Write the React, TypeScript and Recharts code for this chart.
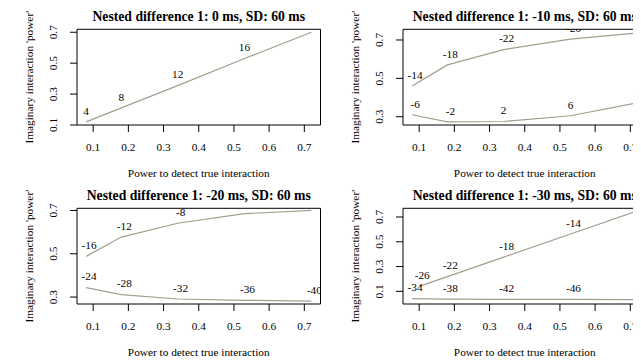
import React from "react";
import { LineChart, Line, XAxis, YAxis, ReferenceArea, LabelList } from "recharts";

// power to detect the true interaction (x) for each simulated effect size
const powerTrue = [0.08, 0.18, 0.34, 0.53, 0.72];
const powerTrueP4Upper = [0.1, 0.18, 0.34, 0.53, 0.72];

const xTicks = [0.1, 0.2, 0.3, 0.4, 0.5, 0.6, 0.7];

const titles = [
	"Nested difference 1: 0 ms, SD: 60 ms",
	"Nested difference 1: -10 ms, SD: 60 ms",
	"Nested difference 1: -20 ms, SD: 60 ms",
	"Nested difference 1: -30 ms, SD: 60 ms",
];
const xTitle = "Power to detect true interaction";
const yTitle = "Imaginary interaction 'power'";

// panel 1
const p1Labels = [4, 8, 12, 16, 20];
const p1Power = [0.12, 0.211, 0.355, 0.53, 0.7];

// panel 2
const p2UpperLabels = [-14, -18, -22, -26, -30];
const p2UpperPower = [0.46, 0.57, 0.65, 0.705, 0.737];
const p2LowerLabels = [-6, -2, 2, 6, 10];
const p2LowerPower = [0.31, 0.273, 0.275, 0.305, 0.373];

// panel 3
const p3UpperLabels = [-16, -12, -8, -4, 0];
const p3UpperPower = [0.488, 0.577, 0.641, 0.685, 0.7];
const p3LowerLabels = [-24, -28, -32, -36, -40];
const p3LowerPower = [0.344, 0.311, 0.291, 0.285, 0.281];

// panel 4
const p4UpperLabels = [-26, -22, -18, -14, -10];
const p4UpperPower = [0.14, 0.219, 0.376, 0.563, 0.75];
const p4LowerLabels = [-34, -38, -42, -46, -50];
const p4LowerPower = [0.042, 0.038, 0.036, 0.035, 0.034];

const yTicksWide = [0.1, 0.2, 0.3, 0.4, 0.5, 0.6, 0.7];
const yTicksNarrow = [0.3, 0.4, 0.5, 0.6, 0.7];
const yLabelled = [0.1, 0.3, 0.5, 0.7];

type Pt = { x: number; y: number; label: number };

const makeSeries = (xs: number[], ys: number[], labels: number[]): Pt[] =>
	xs.map((x, i) => ({ x, y: ys[i], label: labels[i] }));

const FONT = "'Liberation Serif', 'Times New Roman', serif";
const TXT = { fontFamily: FONT, fontSize: 11.3, fill: "#000" };
const LINE_COLOR = "#a19f8b";
const PANEL_W = 326;
const PANEL_H = 179;
const PLOT_LEFT = 77;
const PLOT_TOP = 29.3;
const PLOT_W = 243.5;
const PLOT_H = 95.7;
const Y_AXIS_W = 40;
const X_AXIS_H = 30;
const X_DOMAIN: [number, number] = [0.054, 0.746];

const panels = [
	{
		title: titles[0],
		yDomain: [0.1, 0.719] as [number, number],
		yTicks: yTicksWide,
		series: [makeSeries(powerTrue, p1Power, p1Labels)],
		left: 0,
		top: 0,
	},
	{
		title: titles[1],
		yDomain: [0.2567, 0.7558] as [number, number],
		yTicks: yTicksNarrow,
		series: [
			makeSeries(powerTrue, p2UpperPower, p2UpperLabels),
			makeSeries(powerTrue, p2LowerPower, p2LowerLabels),
		],
		left: 325.7,
		top: 0,
	},
	{
		title: titles[2],
		yDomain: [0.268, 0.71] as [number, number],
		yTicks: yTicksNarrow,
		series: [
			makeSeries(powerTrue, p3UpperPower, p3UpperLabels),
			makeSeries(powerTrue, p3LowerPower, p3LowerLabels),
		],
		left: 0,
		top: 179.3,
	},
	{
		title: titles[3],
		yDomain: [-0.002, 0.77] as [number, number],
		yTicks: yTicksWide,
		series: [
			makeSeries(powerTrueP4Upper, p4UpperPower, p4UpperLabels),
			makeSeries(powerTrue, p4LowerPower, p4LowerLabels),
		],
		left: 325.7,
		top: 179.3,
	},
];

const XTick = (props: any) => {
	const { x, y, payload } = props;
	return (
		<text x={x} y={y + 14.7} textAnchor="middle" dominantBaseline="central" style={TXT}>
			{payload.value.toFixed(1)}
		</text>
	);
};

const YTick = (props: any) => {
	const { x, y, payload } = props;
	if (!yLabelled.includes(payload.value)) return <g />;
	const cx = x - 16.7;
	return (
		<text
			x={cx}
			y={y}
			transform={`rotate(-90 ${cx} ${y})`}
			textAnchor="middle"
			dominantBaseline="central"
			style={TXT}
		>
			{payload.value.toFixed(1)}
		</text>
	);
};

// R's text() is clipped to the plot region, so labels above the box get cut
const pointLabel = (clipId: string) => (props: any) => {
	const { x, y, value, index } = props;
	const id = `${clipId}-${index}`;
	const dx = String(value).startsWith("-") ? 3 : 0;
	return (
		<g>
			<defs>
				<clipPath id={id}>
					<rect x={PLOT_LEFT} y={PLOT_TOP} width={PLOT_W} height={PLOT_H} />
				</clipPath>
			</defs>
			<text
				x={x + dx}
				y={y - 11.2}
				textAnchor="middle"
				dominantBaseline="central"
				style={TXT}
				clipPath={`url(#${id})`}
			>
				{value}
			</text>
		</g>
	);
};

const Panel = ({ p, idx }: { p: (typeof panels)[number]; idx: number }) => {
	const cx = PLOT_LEFT + PLOT_W / 2;
	const cy = PLOT_TOP + PLOT_H / 2;
	return (
		<div style={{ position: "absolute", left: p.left, top: p.top }}>
			<LineChart
				width={PANEL_W}
				height={PANEL_H}
				style={{ fontFamily: FONT }}
				margin={{
					top: PLOT_TOP,
					left: PLOT_LEFT - Y_AXIS_W,
					right: PANEL_W - PLOT_LEFT - PLOT_W,
					bottom: PANEL_H - PLOT_TOP - PLOT_H - X_AXIS_H,
				}}
			>
				<XAxis
					type="number"
					dataKey="x"
					domain={X_DOMAIN}
					ticks={xTicks}
					allowDataOverflow
					axisLine={false}
					stroke="#000"
					tickLine={{ stroke: "#000" }}
					tickSize={7}
					tickMargin={0}
					height={X_AXIS_H}
					tick={<XTick />}
				/>
				<YAxis
					type="number"
					domain={p.yDomain}
					ticks={p.yTicks}
					allowDataOverflow
					axisLine={false}
					stroke="#000"
					tickLine={{ stroke: "#000" }}
					tickSize={7}
					tickMargin={0}
					width={Y_AXIS_W}
					tick={<YTick />}
				/>
				<ReferenceArea
					x1={X_DOMAIN[0]}
					x2={X_DOMAIN[1]}
					y1={p.yDomain[0]}
					y2={p.yDomain[1]}
					fill="none"
					fillOpacity={0}
					stroke="#000"
					strokeWidth={1}
					ifOverflow="visible"
				/>
				{p.series.map((s, i) => (
					<Line
						key={i}
						data={s}
						dataKey="y"
						type="linear"
						stroke={LINE_COLOR}
						strokeWidth={1.2}
						dot={false}
						activeDot={false}
						isAnimationActive={false}
					>
						<LabelList dataKey="label" content={pointLabel(`clip-p${idx}-s${i}`)} />
					</Line>
				))}
				<text
					x={cx}
					y={16}
					textAnchor="middle"
					dominantBaseline="central"
					style={{ ...TXT, fontSize: 13.7, fontWeight: "bold" }}
				>
					{p.title}
				</text>
				<text x={cx} y={PLOT_TOP + PLOT_H + 48.3} textAnchor="middle" dominantBaseline="central" style={TXT}>
					{xTitle}
				</text>
				<text
					x={29}
					y={cy}
					transform={`rotate(-90 29 ${cy})`}
					textAnchor="middle"
					dominantBaseline="central"
					style={TXT}
				>
					{yTitle}
				</text>
			</LineChart>
		</div>
	);
};

export default function App() {
	return (
		<div
			style={{
				position: "relative",
				width: 641,
				height: 361,
				margin: "-8px 0 0 -8px",
				overflow: "hidden",
				background: "#fff",
				fontFamily: FONT,
			}}
		>
			{panels.map((p, i) => (
				<Panel key={i} p={p} idx={i} />
			))}
		</div>
	);
}
